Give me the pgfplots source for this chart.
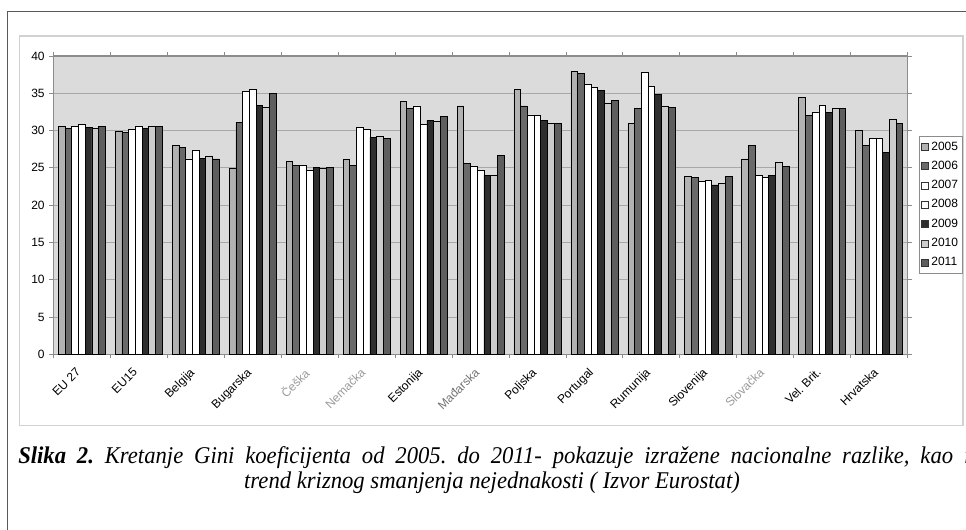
\documentclass[border=0pt]{standalone}
\usepackage{pgfplots}
\pgfplotsset{compat=1.18}
\usepackage{pgfplotstable}
\usepackage{fontspec}
\setmainfont{Liberation Serif}
\newfontfamily\arialfont{Liberation Sans}

\definecolor{c2005}{HTML}{B2B2B2}
\definecolor{c2006}{HTML}{6A6A6A}
\definecolor{c2007}{HTML}{FFFFFF}
\definecolor{c2008}{HTML}{FFFFFF}
\definecolor{c2009}{HTML}{2E2E2E}
\definecolor{c2010}{HTML}{CCCCCC}
\definecolor{c2011}{HTML}{5E5E5E}
\definecolor{plotbg}{HTML}{DBDBDB}
\definecolor{gridc}{HTML}{A8A8A8}
\definecolor{framec}{HTML}{8C8C8C}
\definecolor{faded}{HTML}{9A9A9A}

% Gini coefficient by country, 2005--2011
\pgfplotstableread{
x y2005 y2006 y2007 y2008 y2009 y2010 y2011
0 30.6 30.3 30.6 30.8 30.4 30.3 30.6
1 29.9 29.7 30.1 30.6 30.3 30.5 30.6
2 28.0 27.7 26.2 27.4 26.3 26.6 26.2
3 24.9 31.1 35.3 35.5 33.4 33.1 35.0
4 25.9 25.3 25.3 24.7 25.0 24.9 25.0
5 26.1 25.3 30.4 30.1 29.1 29.2 29.0
6 33.9 33.0 33.3 30.8 31.4 31.2 31.9
7 33.3 25.6 25.2 24.7 24.0 24.0 26.7
8 35.5 33.3 32.1 32.0 31.4 31.0 31.0
9 37.9 37.7 36.2 35.8 35.4 33.7 34.0
10 31.0 33.0 37.8 35.9 34.9 33.3 33.1
11 23.8 23.7 23.2 23.3 22.7 22.9 23.8
12 26.2 28.0 24.0 23.7 24.0 25.8 25.2
13 34.5 32.0 32.5 33.4 32.4 33.0 33.0
14 30.0 28.0 28.9 28.9 27.1 31.5 31.0
}\gini

\begin{document}
\frenchspacing
\begin{tikzpicture}[x=0.75pt,y=0.75pt]
\useasboundingbox (0,0) rectangle (966,530);
% outer frame of the figure
\draw[black!65,line width=1.1pt] (7.3,-20) -- (7.3,518.3) -- (990,518.3);
% chart area
\draw[black!18,line width=0.9pt] (19.3,104.5) rectangle (963,494);

\begin{axis}[
  at={(40pt,131.8pt)}, anchor=south west,
  scale only axis, width=640.8pt, height=223.7pt,
  xmin=-0.5, xmax=14.5, ymin=0, ymax=40,
  ybar=0pt, bar width=0.118,
  axis background/.style={fill=plotbg},
  axis line style={draw=framec, line width=0.8pt},
  xtick={-0.5,0.5,1.5,2.5,3.5,4.5,5.5,6.5,7.5,8.5,9.5,10.5,11.5,12.5,13.5,14.5},
  x tick label as interval,
  xticklabels={EU 27,EU15,Belgija,Bugarska,\textcolor{faded}{Češka},\textcolor{faded}{Nemačka},Estonija,\textcolor{black!55}{Mađarska},Poljska,Portugal,Rumunija,Slovenija,\textcolor{faded}{Slovačka},Vel. Brit.,Hrvatska},
  ytick={0,5,...,40},
  ymajorgrids, grid style={draw=gridc, line width=0.7pt},
  tick align=outside, major tick length=3pt,
  tick style={draw=framec, line width=0.7pt},
  tick label style={font=\arialfont\fontsize{9}{10}\selectfont, text=black},
  /pgf/number format/assume math mode=true,
  xticklabel style={xshift=-5pt, yshift=-5pt, rotate=45, anchor=north east, inner sep=1pt},
  legend style={at={(1.013,0.7315)}, anchor=north west, draw=framec,
    font=\arialfont\fontsize{9}{10}\selectfont, text=black,
    row sep=4.7pt, inner xsep=1.5pt, inner ysep=3pt,
    nodes={inner ysep=1pt, inner xsep=2pt}},
  legend cell align=left,
  legend image code/.code={\draw[#1,draw=black!80,line width=0.5pt] (0pt,-2.6pt) rectangle (5.2pt,2.6pt);},
  every axis plot/.append style={draw=black, line width=0.55pt},
]
\addplot[fill=c2005] table[x=x,y=y2005] {\gini};
\addplot[fill=c2006] table[x=x,y=y2006] {\gini};
\addplot[fill=c2007] table[x=x,y=y2007] {\gini};
\addplot[fill=c2008] table[x=x,y=y2008] {\gini};
\addplot[fill=c2009] table[x=x,y=y2009] {\gini};
\addplot[fill=c2010] table[x=x,y=y2010] {\gini};
\addplot[fill=c2011] table[x=x,y=y2011] {\gini};
\legend{2005,2006,2007,2008,2009,2010,2011}
\end{axis}

% figure caption: first line set to the full measure, second line centred
\node[anchor=base west, inner sep=0pt, yscale=1.06, font=\fontsize{17}{20}\selectfont\itshape]
  at (18,66.7) {\makebox[714pt][s]{\textbf{Slika 2.} Kretanje Gini koeficijenta od 2005. do 2011- pokazuje izražene nacionalne razlike, kao i}};
\node[anchor=base, inner sep=0pt, yscale=1.06, font=\fontsize{17}{20}\selectfont\itshape]
  at (492,41.7) {trend kriznog smanjenja nejednakosti ( Izvor Eurostat)};
\end{tikzpicture}
\end{document}
